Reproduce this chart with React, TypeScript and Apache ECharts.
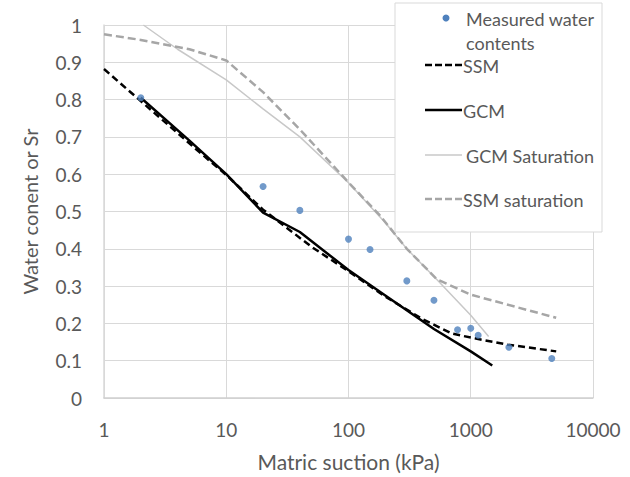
import React, { useEffect, useRef } from "react";
import * as echarts from "echarts";

const xTicks = [1, 10, 100, 1000, 10000];
const yTicks = [0, 0.1, 0.2, 0.3, 0.4, 0.5, 0.6, 0.7, 0.8, 0.9, 1];

const measuredX = [2, 20, 40, 100, 150, 300, 500, 780, 1000, 1150, 2050, 4600];
const measuredY = [0.805, 0.567, 0.503, 0.426, 0.398, 0.314, 0.262, 0.183, 0.187, 0.168, 0.136, 0.106];

const ssmX = [1, 2, 6, 10, 20, 50, 100, 200, 400, 700, 1000, 2000, 5000];
const ssmY = [0.882, 0.796, 0.66, 0.598, 0.505, 0.405, 0.34, 0.272, 0.212, 0.173, 0.162, 0.143, 0.125];

const gcmX = [2, 5, 10, 20, 40, 100, 200, 500, 1000, 1500];
const gcmY = [0.805, 0.69, 0.6, 0.497, 0.445, 0.343, 0.275, 0.185, 0.125, 0.087];

const gcmSatX = [2.1, 4, 10, 20, 40, 100, 200, 300, 530, 1000, 1400];
const gcmSatY = [1.0, 0.935, 0.853, 0.775, 0.7, 0.577, 0.47, 0.4, 0.317, 0.222, 0.165];

const ssmSatX = [1, 2, 5, 10, 20, 40, 100, 180, 300, 530, 1000, 5000];
const ssmSatY = [0.975, 0.96, 0.935, 0.905, 0.82, 0.72, 0.578, 0.49, 0.4, 0.318, 0.277, 0.215];

const zip = (xs: number[], ys: number[]) => xs.map((x, i) => [x, ys[i]]);

const FONT = "Lato";
const TXT = "#595959";
const LG = 18;

export default function App() {
  const ref = useRef<HTMLDivElement>(null);
  useEffect(() => {
    if (!ref.current) return;
    const chart = echarts.init(ref.current, null, { renderer: "svg" });
    const lgX = 425;
    const lgText = 463;
    chart.setOption({
      animation: false,
      backgroundColor: "#ffffff",
      grid: { left: 104, right: 37, top: 25, bottom: 76 },
      xAxis: {
        type: "log",
        logBase: 10,
        min: xTicks[0],
        max: xTicks[xTicks.length - 1],
        name: "Matric suction (kPa)",
        nameLocation: "middle",
        nameGap: 53,
        nameTextStyle: { fontFamily: FONT, fontSize: 21, color: TXT },
        axisLine: { show: true, lineStyle: { color: "#d0d0d0", width: 1.5 } },
        axisTick: { show: false },
        axisLabel: {
          fontFamily: FONT,
          fontSize: 19,
          color: TXT,
          margin: 22,
          formatter: (v: number) => String(Math.round(v)),
        },
        splitLine: { show: true, lineStyle: { color: "#d9d9d9", width: 1 } },
        minorSplitLine: { show: false },
      },
      yAxis: {
        type: "value",
        min: 0,
        max: 1,
        interval: 0.1,
        name: "Water conent or Sr",
        nameLocation: "middle",
        nameRotate: 90,
        nameGap: 64,
        nameTextStyle: { fontFamily: FONT, fontSize: 20, color: TXT, padding: [0, 0, 0, 0] },
        axisLine: { show: true, lineStyle: { color: "#d9d9d9", width: 1.5 } },
        axisTick: { show: false },
        axisLabel: {
          fontFamily: FONT,
          fontSize: 19,
          color: TXT,
          margin: 22,
          formatter: (v: number) => {
            const t = yTicks.find((k) => Math.abs(k - v) < 1e-6);
            return t === undefined ? "" : String(t);
          },
        },
        splitLine: { show: true, lineStyle: { color: "#d9d9d9", width: 1 } },
      },
      series: [
        {
          name: "Measured water contents",
          type: "scatter",
          data: zip(measuredX, measuredY),
          symbol: "circle",
          symbolSize: 7,
          itemStyle: { color: "#4f81bd" },
          z: 5,
        },
        {
          name: "SSM",
          type: "line",
          data: zip(ssmX, ssmY),
          showSymbol: false,
          lineStyle: { color: "#000000", width: 2.5, type: [7, 4] },
          z: 3,
        },
        {
          name: "GCM",
          type: "line",
          data: zip(gcmX, gcmY),
          showSymbol: false,
          lineStyle: { color: "#000000", width: 2.5 },
          z: 4,
        },
        {
          name: "GCM Saturation",
          type: "line",
          data: zip(gcmSatX, gcmSatY),
          showSymbol: false,
          lineStyle: { color: "#c8c8c8", width: 1.5 },
          z: 2,
        },
        {
          name: "SSM saturation",
          type: "line",
          data: zip(ssmSatX, ssmSatY),
          showSymbol: false,
          lineStyle: { color: "#a6a6a6", width: 2.5, type: [8, 4] },
          z: 2,
        },
      ],
      graphic: [
        {
          type: "rect",
          shape: { x: 395, y: 3, width: 207, height: 229 },
          style: { fill: "#ffffff", stroke: "#d9d9d9", lineWidth: 1 },
          z: 10,
        },
        {
          type: "circle",
          shape: { cx: 446, cy: 18, r: 3.5 },
          style: { fill: "#4f81bd" },
          z: 11,
        },
        {
          type: "text",
          x: 466,
          y: 19,
          style: { text: "Measured water", fontFamily: FONT, fontSize: LG, fill: TXT, verticalAlign: "middle" },
          z: 11,
        },
        {
          type: "text",
          x: 466,
          y: 43,
          style: { text: "contents", fontFamily: FONT, fontSize: LG, fill: TXT, verticalAlign: "middle" },
          z: 11,
        },
        {
          type: "line",
          shape: { x1: lgX, y1: 65, x2: lgText - 1, y2: 65 },
          style: { stroke: "#000000", lineWidth: 2.5, lineDash: [7, 3] },
          z: 11,
        },
        {
          type: "text",
          x: lgText,
          y: 66,
          style: { text: "SSM", fontFamily: FONT, fontSize: LG, fill: TXT, verticalAlign: "middle" },
          z: 11,
        },
        {
          type: "line",
          shape: { x1: lgX, y1: 110, x2: lgText - 1, y2: 110 },
          style: { stroke: "#000000", lineWidth: 2.5 },
          z: 11,
        },
        {
          type: "text",
          x: lgText,
          y: 111,
          style: { text: "GCM", fontFamily: FONT, fontSize: LG, fill: TXT, verticalAlign: "middle" },
          z: 11,
        },
        {
          type: "line",
          shape: { x1: lgX, y1: 155, x2: lgText - 1, y2: 155 },
          style: { stroke: "#c8c8c8", lineWidth: 1.5 },
          z: 11,
        },
        {
          type: "text",
          x: lgText + 3,
          y: 156,
          style: { text: "GCM Saturation", fontFamily: FONT, fontSize: LG, fill: TXT, verticalAlign: "middle" },
          z: 11,
        },
        {
          type: "line",
          shape: { x1: lgX, y1: 199, x2: lgText - 1, y2: 199 },
          style: { stroke: "#a6a6a6", lineWidth: 2.5, lineDash: [7, 3] },
          z: 11,
        },
        {
          type: "text",
          x: lgText,
          y: 200,
          style: { text: "SSM saturation", fontFamily: FONT, fontSize: LG, fill: TXT, verticalAlign: "middle" },
          z: 11,
        },
      ],
    });
    return () => chart.dispose();
  }, []);
  return (
    <div
      ref={ref}
      style={{ position: "absolute", left: 0, top: 0, width: 630, height: 477 }}
    />
  );
}
